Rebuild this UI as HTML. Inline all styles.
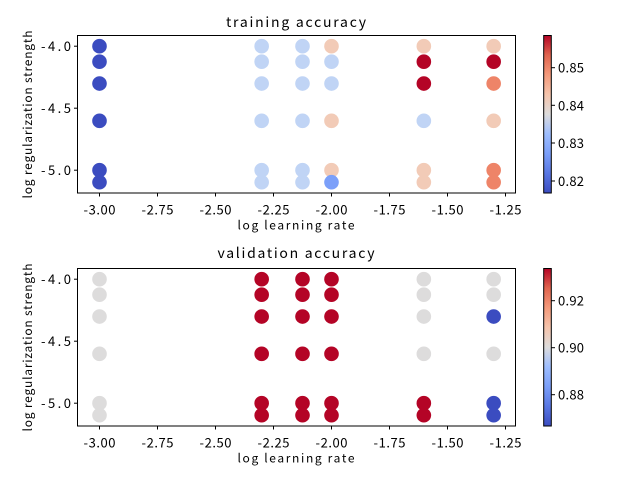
<!DOCTYPE html>
<html><head><meta charset="utf-8"><style>
html,body{margin:0;padding:0;background:#fff;}
svg{display:block;}
text{font-family:"WenQuanYi Zen Hei Mono","WenQuanYi Zen Hei","Noto Sans CJK SC","Liberation Sans",sans-serif;fill:#000;}
</style></head><body>
<svg width="640" height="480" viewBox="0 0 640 480" xmlns="http://www.w3.org/2000/svg">
<defs>
<linearGradient id="cw" x1="0" y1="1" x2="0" y2="0">
<stop offset="0" stop-color="#3b4cc0"/><stop offset="0.125" stop-color="#5977e3"/><stop offset="0.25" stop-color="#7b9ff9"/><stop offset="0.375" stop-color="#9ebeff"/><stop offset="0.5" stop-color="#dddcdc"/><stop offset="0.625" stop-color="#f5c4ac"/><stop offset="0.75" stop-color="#f49a7b"/><stop offset="0.875" stop-color="#e0654f"/><stop offset="1" stop-color="#b40426"/>
</linearGradient>
</defs>
<g id="top">
<rect x="77.5" y="35.5" width="438" height="157.5" fill="none" stroke="#000" stroke-width="1"/>
<text x="296" y="27" font-size="14" text-anchor="middle" textLength="140">training accuracy</text>
</g>
<g id="bot">
<rect x="77.5" y="268.5" width="438" height="157.5" fill="none" stroke="#000" stroke-width="1"/>
<text x="296" y="258" font-size="14" text-anchor="middle" textLength="157">validation accuracy</text>
</g>
<script>
(function(){
var ns="http://www.w3.org/2000/svg",svg=document.querySelector('svg');
function el(t,a,txt){var e=document.createElementNS(ns,t);for(var k in a)e.setAttribute(k,a[k]);if(txt!==undefined)e.textContent=txt;svg.appendChild(e);return e;}
var xs=[-3,-2.301,-2.125,-2,-1.602,-1.301],ys=[-4,-4.125,-4.301,-4.602,-5,-5.097];
function X(v){return 99.5+(v+3)*232;}
var B='#3b4cc0',L='#c0d4f5',P='#f2cbb7',R='#b40426',S='#ee8468',M='#7b9ff9',G='#dddcdc';
var tr=[[B,B,B,B,B,B],[L,L,L,L,L,L],[L,L,L,L,L,L],[P,L,L,P,P,M],[P,R,R,L,P,P],[P,R,S,P,S,S]];
var va=[[G,G,G,G,G,G],[R,R,R,R,R,R],[R,R,R,R,R,R],[R,R,R,R,R,R],[G,G,G,G,R,R],[G,G,B,G,B,B]];
function panel(top,cols,cb){
 var y0=top+10.7;function Y(v){return y0+(-4-v)*124;}
 for(var i=0;i<8;i++){var v=-3+i*0.25,x=X(v);el('line',{x1:x,x2:x,y1:top+157.5,y2:top+161,stroke:'#000'});
  el('text',{x:x,y:top+179,'font-size':13,'text-anchor':'middle',textLength:32},'-'+Math.abs(v).toFixed(2));}
 [-4,-4.5,-5].forEach(function(v){var y=Y(v);el('line',{x1:74,x2:77.5,y1:y,y2:y,stroke:'#000'});
  el('text',{x:71,y:y+5,'font-size':13,'text-anchor':'end',textLength:30},'-'+Math.abs(v).toFixed(1));});
 el('text',{x:296,y:top+194,'font-size':12,'text-anchor':'middle',textLength:117},'log learning rate');
 el('text',{x:0,y:0,'font-size':12,'text-anchor':'middle',textLength:168,transform:'translate(32,'+(top+79)+') rotate(-90)'},'log regularization strength');
 for(var i=0;i<6;i++)for(var j=0;j<6;j++)el('circle',{cx:X(xs[i]),cy:Y(ys[j]),r:7.3,fill:cols[i][j]});
 el('rect',{x:543.7,y:top,width:7.6,height:157.5,fill:'url(#cw)',stroke:'#000','stroke-width':1});
 cb.forEach(function(t){el('line',{x1:551.3,x2:555,y1:t[1],y2:t[1],stroke:'#000'});el('text',{x:558,y:t[1]+5,'font-size':13,textLength:26},t[0]);});
}
panel(35.5,tr,[['0.85',67.7],['0.84',105.3],['0.83',143],['0.82',181]]);
panel(268.5,va,[['0.92',300.7],['0.90',347.7],['0.88',394.7]]);
})();
</script>
</svg>
</body></html>
